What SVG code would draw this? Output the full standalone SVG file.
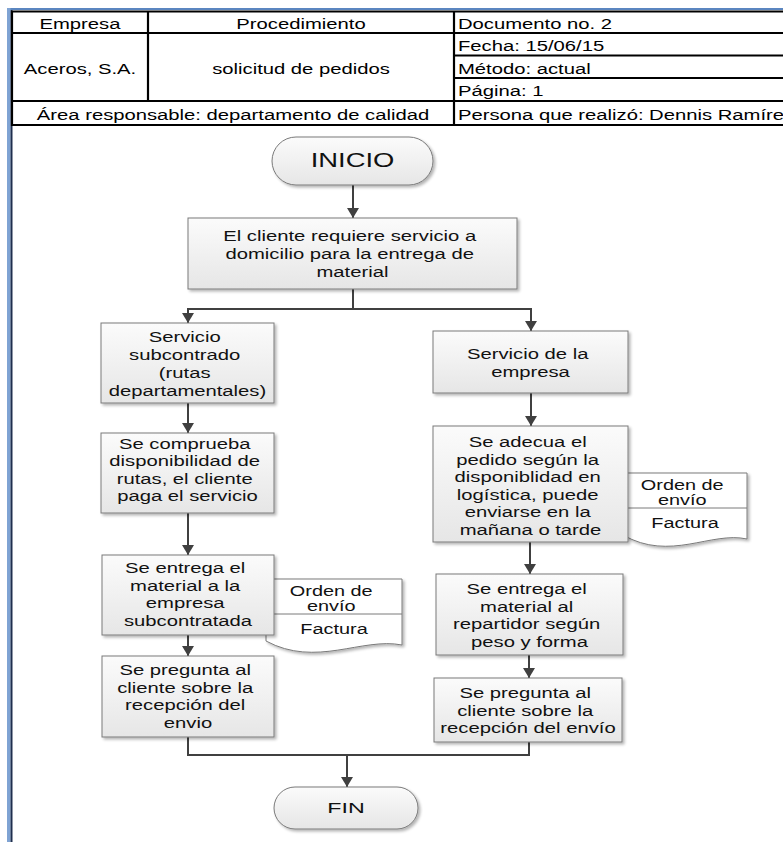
<svg xmlns="http://www.w3.org/2000/svg" width="783" height="842" viewBox="0 0 783 842">
  <style>
    .box{fill:url(#fillg);stroke:#7a7a7a;stroke-width:1;filter:url(#sh)}
    .doc{fill:#ffffff;stroke:#7a7a7a;stroke-width:1;filter:url(#sh)}
    .t{font-family:"Liberation Sans",Arial,sans-serif;font-size:15px;fill:#111;text-anchor:middle}
    .dt{font-size:14px}
    .h{font-family:"Liberation Sans",Arial,sans-serif;font-size:15px;fill:#000}
    .hc{text-anchor:middle}
    .tl{fill:none;stroke:#000;stroke-width:2.2}
    .c{fill:none;stroke:#404040;stroke-width:2}
    .arr{marker-end:url(#ah)}
  </style>
  <defs>
    <linearGradient id="fillg" x1="0" y1="0" x2="0" y2="1">
      <stop offset="0" stop-color="#fbfbfb"/>
      <stop offset="1" stop-color="#e6e6e6"/>
    </linearGradient>
    <filter id="sh" x="-10%" y="-10%" width="130%" height="140%">
      <feGaussianBlur in="SourceAlpha" stdDeviation="1.5"/>
      <feOffset dx="2" dy="2"/>
      <feComponentTransfer><feFuncA type="linear" slope="0.3"/></feComponentTransfer>
      <feMerge><feMergeNode/><feMergeNode in="SourceGraphic"/></feMerge>
    </filter>
    <marker id="ah" markerWidth="10" markerHeight="12" refX="10" refY="6" orient="auto" markerUnits="userSpaceOnUse">
      <path d="M0,0 L10,6 L0,12 Z" fill="#404040"/>
    </marker>
  </defs>

  <rect width="783" height="842" fill="#ffffff"/>

  <!-- page frame -->
  <g id="frame">
    <rect x="7" y="8" width="776" height="2" fill="#5b86c0"/>
    <rect x="7" y="8" width="3.5" height="834" fill="#7fa3d3"/>
    <rect x="10.5" y="10" width="2" height="832" fill="#1f2f4f"/>
  </g>

  <!-- header table -->
  <g id="header">
    <line class="tl" x1="11" y1="11.5" x2="783" y2="11.5"/>
    <line class="tl" x1="11" y1="33" x2="783" y2="33"/>
    <line class="tl" x1="454" y1="55.5" x2="783" y2="55.5"/>
    <line class="tl" x1="454" y1="78" x2="783" y2="78"/>
    <line class="tl" x1="11" y1="101" x2="783" y2="101"/>
    <line class="tl" x1="11" y1="125" x2="783" y2="125"/>
    <line class="tl" x1="12" y1="11" x2="12" y2="126"/>
    <line class="tl" x1="148" y1="11" x2="148" y2="101"/>
    <line class="tl" x1="454" y1="11" x2="454" y2="126"/>

    <text class="h hc" transform="translate(80 29) scale(1.35 1)">Empresa</text>
    <text class="h hc" transform="translate(301 29) scale(1.35 1)">Procedimiento</text>
    <text class="h" transform="translate(458 29) scale(1.35 1)">Documento no. 2</text>
    <text class="h hc" transform="translate(80 74) scale(1.35 1)">Aceros, S.A.</text>
    <text class="h hc" transform="translate(301 74) scale(1.35 1)">solicitud de pedidos</text>
    <text class="h" transform="translate(458 51) scale(1.35 1)">Fecha: 15/06/15</text>
    <text class="h" transform="translate(458 74) scale(1.35 1)">Método: actual</text>
    <text class="h" transform="translate(458 96) scale(1.35 1)">Página: 1</text>
    <text class="h hc" transform="translate(233 120) scale(1.35 1)">Área responsable: departamento de calidad</text>
    <text class="h" transform="translate(458 120) scale(1.35 1)">Persona que realizó: Dennis Ramírez</text>
  </g>

  <!-- connectors -->
  <g id="connectors">
    <line class="c arr" x1="353" y1="185" x2="353" y2="218"/>
    <polyline class="c" points="353,289 353,309"/>
    <line class="c" x1="187" y1="309" x2="532" y2="309"/>
    <line class="c arr" x1="188" y1="308" x2="188" y2="323"/>
    <line class="c arr" x1="531" y1="308" x2="531" y2="331"/>
    <line class="c arr" x1="188" y1="403" x2="188" y2="433"/>
    <line class="c arr" x1="188" y1="513" x2="188" y2="555"/>
    <line class="c arr" x1="188" y1="635" x2="188" y2="656"/>
    <polyline class="c" points="188,737 188,755 529,755 529,742"/>
    <line class="c arr" x1="347" y1="754" x2="347" y2="787"/>
    <line class="c arr" x1="531" y1="393" x2="531" y2="426"/>
    <line class="c arr" x1="530" y1="542" x2="530" y2="574"/>
    <line class="c arr" x1="529" y1="655" x2="529" y2="678"/>
  </g>

  <!-- start -->
  <g id="n-inicio">
    <rect class="box" x="272" y="137" width="161" height="48" rx="24" ry="24"/>
    <text class="t" style="font-size:20px" transform="translate(352.5 167) scale(1.37 1)">INICIO</text>
  </g>

  <g id="n-solicitud">
    <rect class="box" x="188" y="218" width="329" height="71"/>
    <text class="t" transform="translate(352.5 0) scale(1.35 1)">
      <tspan x="0" y="241">El cliente requiere servicio a</tspan>
      <tspan x="0" y="259">domicilio para la entrega de</tspan>
      <tspan x="0" y="277">material</tspan>
    </text>
  </g>

  <!-- left branch -->
  <g id="n-subcontratado">
    <rect class="box" x="101" y="323" width="173" height="80"/>
    <text class="t" transform="translate(187.5 0) scale(1.35 1)">
      <tspan x="0" y="342">Servicio</tspan>
      <tspan x="0" y="360">subcontrado</tspan>
      <tspan x="0" y="378">(rutas</tspan>
      <tspan x="0" y="396">departamentales)</tspan>
    </text>
  </g>

  <g id="n-comprueba">
    <rect class="box" x="101" y="433" width="173" height="80"/>
    <text class="t" transform="translate(187.5 0) scale(1.35 1)">
      <tspan x="0" y="449">Se comprueba</tspan>
      <tspan x="0" y="466.5">disponibilidad de</tspan>
      <tspan x="0" y="484">rutas, el cliente</tspan>
      <tspan x="0" y="501.5">paga el servicio</tspan>
    </text>
  </g>

  <g id="d-docs-izq">
    <path class="doc" d="M266,579 H402 V645 C362,637 316,668 266,641 Z"/>
    <line x1="266" y1="614" x2="402" y2="614" stroke="#7a7a7a" stroke-width="1"/>
    <text class="t dt" transform="translate(334 0) scale(1.42 1)">
      <tspan x="0" y="596">Orden de</tspan>
      <tspan x="0" y="611.5">envío</tspan>
      <tspan x="0" y="634">Factura</tspan>
    </text>
  </g>

  <g id="n-entrega-sub">
    <rect class="box" x="102" y="555" width="172" height="80"/>
    <text class="t" transform="translate(188 0) scale(1.35 1)">
      <tspan x="0" y="573">Se entrega el</tspan>
      <tspan x="0" y="591">material a la</tspan>
      <tspan x="0" y="608">empresa</tspan>
      <tspan x="0" y="626">subcontratada</tspan>
    </text>
  </g>

  <g id="n-pregunta-izq">
    <rect class="box" x="102" y="656" width="172" height="81"/>
    <text class="t" transform="translate(188 0) scale(1.35 1)">
      <tspan x="0" y="675">Se pregunta al</tspan>
      <tspan x="0" y="693">cliente sobre la</tspan>
      <tspan x="0" y="710">recepción del</tspan>
      <tspan x="0" y="728">envio</tspan>
    </text>
  </g>

  <!-- right branch -->
  <g id="n-empresa">
    <rect class="box" x="433" y="331" width="195" height="62"/>
    <text class="t" transform="translate(530.5 0) scale(1.35 1)">
      <tspan x="0" y="359">Servicio de la</tspan>
      <tspan x="0" y="377">empresa</tspan>
    </text>
  </g>

  <g id="d-docs-der">
    <path class="doc" d="M623,473 H747 V539 C711,531 670,562 623,535 Z"/>
    <line x1="623" y1="508" x2="747" y2="508" stroke="#7a7a7a" stroke-width="1"/>
    <text class="t dt" transform="translate(685 0) scale(1.42 1)">
      <tspan x="0" y="490">Orden de</tspan>
      <tspan x="0" y="505.5">envío</tspan>
      <tspan x="0" y="528">Factura</tspan>
    </text>
  </g>

  <g id="n-adecua">
    <rect class="box" x="433" y="426" width="195" height="116"/>
    <text class="t" transform="translate(530.5 0) scale(1.35 1)">
      <tspan x="0" y="447">Se adecua el</tspan>
      <tspan x="0" y="464.6">pedido según la</tspan>
      <tspan x="0" y="482.2">disponiblidad en</tspan>
      <tspan x="0" y="499.8">logística, puede</tspan>
      <tspan x="0" y="517.4">enviarse en la</tspan>
      <tspan x="0" y="535">mañana o tarde</tspan>
    </text>
  </g>

  <g id="n-repartidor">
    <rect class="box" x="436" y="574" width="187" height="81"/>
    <text class="t" transform="translate(529.5 0) scale(1.35 1)">
      <tspan x="0" y="594">Se entrega el</tspan>
      <tspan x="0" y="611.6">material al</tspan>
      <tspan x="0" y="629.2">repartidor según</tspan>
      <tspan x="0" y="646.8">peso y forma</tspan>
    </text>
  </g>

  <g id="n-pregunta-der">
    <rect class="box" x="434" y="678" width="188" height="64"/>
    <text class="t" transform="translate(528 0) scale(1.35 1)">
      <tspan x="0" y="698">Se pregunta al</tspan>
      <tspan x="0" y="715.6">cliente sobre la</tspan>
      <tspan x="0" y="733.2">recepción del envío</tspan>
    </text>
  </g>

  <!-- end -->
  <g id="n-fin">
    <rect class="box" x="274" y="787" width="144" height="42" rx="21" ry="21"/>
    <text class="t" style="font-size:15.5px" transform="translate(346 813) scale(1.5 1)">FIN</text>
  </g>
</svg>
